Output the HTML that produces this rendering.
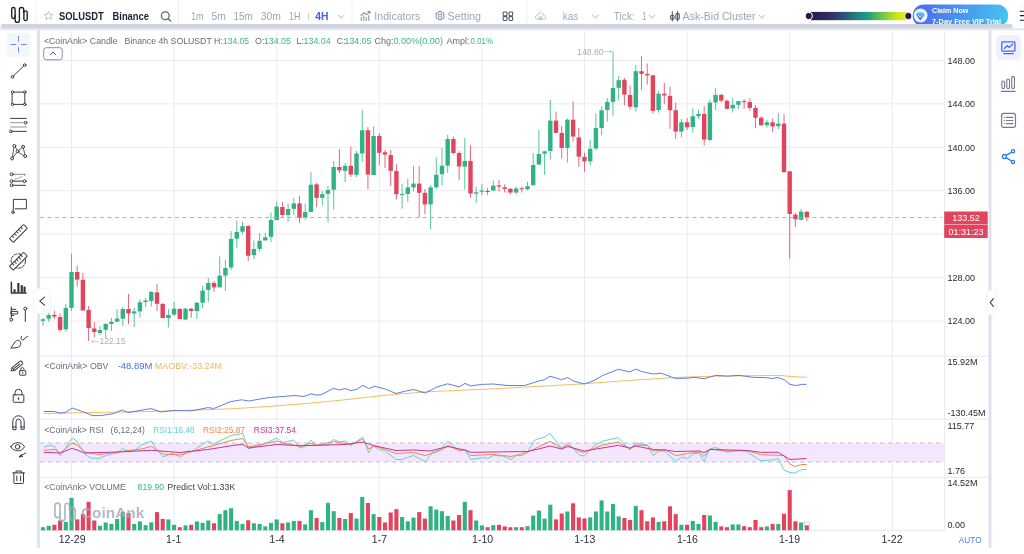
<!DOCTYPE html>
<html><head><meta charset="utf-8"><title>SOLUSDT Chart</title>
<style>
html,body{margin:0;padding:0;background:#fff;}
body{width:1024px;height:554px;overflow:hidden;position:relative;}
svg{position:absolute;left:0;top:0;display:block;}
</style></head><body>
<svg width="1024" height="554" viewBox="0 0 1024 554" font-family="'Liberation Sans', Arial, sans-serif">
<g fill="none" stroke="#1b1f2c" stroke-width="1.35" stroke-linecap="round" stroke-linejoin="round"><rect x="11.7" y="7.5" width="3.4" height="11" rx="1.7"/><path d="M15.1 15.5 V20.2 A2.15 2.15 0 0 0 19.4 20.2 V9.6 A2.15 2.15 0 0 1 23.7 9.6 V12.5"/><rect x="23.9" y="10.9" width="3.3" height="9.7" rx="1.65"/></g>
<rect x="35.5" y="0" width="1" height="24" fill="#f0f1f5"/>
<rect x="178.0" y="0" width="1" height="24" fill="#f0f1f5"/>
<rect x="351.5" y="0" width="1" height="24" fill="#f0f1f5"/>
<rect x="526.5" y="0" width="1" height="24" fill="#f0f1f5"/>
<path d="M48.55 11.3 L49.85 14.2 L52.9 14.5 L50.6 16.5 L51.3 19.5 L48.55 17.9 L45.8 19.5 L46.5 16.5 L44.2 14.5 L47.25 14.2 Z" fill="none" stroke="#b9bdca" stroke-width="0.9" stroke-linejoin="round"/>
<text x="58.90" y="19.50" font-size="10" fill="#1d2230" font-weight="bold" textLength="44.90" lengthAdjust="spacingAndGlyphs">SOLUSDT</text>
<text x="112.50" y="19.50" font-size="10" fill="#1d2230" font-weight="bold" textLength="36.50" lengthAdjust="spacingAndGlyphs">Binance</text>
<g fill="none" stroke="#5c6478" stroke-width="1.3" stroke-linecap="round"><circle cx="165.3" cy="15.8" r="3.9"/><path d="M168.2 18.7 L170.6 21"/></g>
<text x="190.90" y="19.80" font-size="10.5" fill="#9ea4b6" textLength="12.80" lengthAdjust="spacingAndGlyphs">1m</text>
<text x="211.60" y="19.80" font-size="10.5" fill="#9ea4b6" textLength="14.40" lengthAdjust="spacingAndGlyphs">5m</text>
<text x="233.60" y="19.80" font-size="10.5" fill="#9ea4b6" textLength="19.30" lengthAdjust="spacingAndGlyphs">15m</text>
<text x="260.80" y="19.80" font-size="10.5" fill="#9ea4b6" textLength="20.20" lengthAdjust="spacingAndGlyphs">30m</text>
<text x="289.00" y="19.80" font-size="10.5" fill="#9ea4b6" textLength="11.40" lengthAdjust="spacingAndGlyphs">1H</text>
<rect x="308" y="13" width="0.9" height="7" fill="#c5c9d4"/>
<text x="315.30" y="19.80" font-size="10.5" fill="#3d5ee9" font-weight="bold" textLength="13.20" lengthAdjust="spacingAndGlyphs">4H</text>
<path d="M338.50 15.20 L341.25 18.20 L344.00 15.20" fill="none" stroke="#a4a9b9" stroke-width="0.9" stroke-linecap="round" stroke-linejoin="round"/>
<g fill="none" stroke="#8d93a6" stroke-width="1.1" stroke-linecap="round"><path d="M361.3 20.4 V17.2 M363.8 20.4 V15.8 M366.3 20.4 V17.5 M368.8 20.4 V15.5"/><path d="M361 15.6 L364.2 12.8 L366.6 14.6 L369.8 11.7"/><path d="M367.8 11.6 H369.9 V13.6"/></g>
<text x="374.30" y="19.80" font-size="10.5" fill="#9ea4b6" textLength="46.00" lengthAdjust="spacingAndGlyphs">Indicators</text>
<g fill="none" stroke="#8d93a6" stroke-width="1.05"><path d="M440 11.2 L441.3 11.6 L441.9 12.9 L443.3 12.9 L444.2 14.2 L443.6 15.6 L444.2 17 L443.3 18.3 L441.9 18.3 L441.3 19.6 L440 20 L438.7 19.6 L438.1 18.3 L436.7 18.3 L435.8 17 L436.4 15.6 L435.8 14.2 L436.7 12.9 L438.1 12.9 L438.7 11.6 Z" stroke-linejoin="round"/><circle cx="440" cy="15.6" r="1.7"/></g>
<text x="447.50" y="19.80" font-size="10.5" fill="#9ea4b6" textLength="33.50" lengthAdjust="spacingAndGlyphs">Setting</text>
<g fill="none" stroke="#50566a" stroke-width="1.05"><rect x="503.1" y="11.9" width="3.8" height="3.8" rx="0.9"/><rect x="508.9" y="11.9" width="3.8" height="3.8" rx="0.9"/><rect x="503.1" y="16.6" width="3.8" height="3.8" rx="0.9"/><rect x="508.9" y="16.6" width="3.8" height="3.8" rx="0.9"/></g>
<g fill="none" stroke="#b6bbc8" stroke-width="1"><path d="M537.5 19.3 C534.8 19.3 534.8 15.3 537.6 15.2 C537.9 11.8 543.3 11.8 543.6 15.2 C546.4 15.3 546.4 19.3 543.6 19.3 Z"/><path d="M538.6 18.2 C539.3 16 541.9 16 542.6 18.2"/><circle cx="540.6" cy="18.4" r="0.6" fill="#b6bbc8"/></g>
<text x="562.80" y="19.80" font-size="10.5" fill="#9ea4b6" textLength="15.30" lengthAdjust="spacingAndGlyphs">kas</text>
<path d="M592.70 15.20 L595.45 18.20 L598.20 15.20" fill="none" stroke="#a4a9b9" stroke-width="0.9" stroke-linecap="round" stroke-linejoin="round"/>
<text x="613.80" y="19.80" font-size="10.5" fill="#9ea4b6" textLength="21.00" lengthAdjust="spacingAndGlyphs">Tick:</text>
<text x="641.90" y="19.80" font-size="10.5" fill="#9ea4b6" textLength="4.40" lengthAdjust="spacingAndGlyphs">1</text>
<path d="M649.00 15.20 L651.75 18.20 L654.50 15.20" fill="none" stroke="#a4a9b9" stroke-width="0.9" stroke-linecap="round" stroke-linejoin="round"/>
<g fill="none" stroke="#4e5466" stroke-width="1.05" stroke-linecap="round"><path d="M672.3 11.5 V21 M677.6 11.5 V21"/><rect x="670.6" y="15.2" width="3.4" height="4" rx="1"/><rect x="675.9" y="13.6" width="3.4" height="5.6" rx="1"/></g>
<text x="682.60" y="19.80" font-size="10.5" fill="#9ea4b6" textLength="72.90" lengthAdjust="spacingAndGlyphs">Ask-Bid Cluster</text>
<path d="M759.00 15.20 L761.75 18.20 L764.50 15.20" fill="none" stroke="#a4a9b9" stroke-width="0.9" stroke-linecap="round" stroke-linejoin="round"/>
<defs><linearGradient id="vir" x1="0" x2="1" y1="0" y2="0"><stop offset="0" stop-color="#2b1b4c"/><stop offset="0.22" stop-color="#30306a"/><stop offset="0.45" stop-color="#24787f"/><stop offset="0.6" stop-color="#22a27c"/><stop offset="0.75" stop-color="#78c84a"/><stop offset="0.88" stop-color="#cbe21e"/><stop offset="1" stop-color="#f0f40a"/></linearGradient><linearGradient id="btn" x1="0" x2="1" y1="0" y2="0"><stop offset="0" stop-color="#4b68ef"/><stop offset="1" stop-color="#45c3f1"/></linearGradient></defs>
<rect x="811" y="11.9" width="97" height="8.3" fill="url(#vir)"/>
<circle cx="808.8" cy="16" r="3.7" fill="#2b1a48" stroke="#fff" stroke-width="1"/>
<circle cx="908.3" cy="16" r="3.7" fill="#2b1a48" stroke="#fff" stroke-width="1"/>
<rect x="912.7" y="4.5" width="95.5" height="22.4" rx="11.2" fill="url(#btn)"/>
<linearGradient id="dia" x1="0" x2="0" y1="0" y2="1"><stop offset="0" stop-color="#62d3f6"/><stop offset="0.45" stop-color="#4a86f2"/><stop offset="1" stop-color="#3b5cf0"/></linearGradient>
<circle cx="920.6" cy="15.5" r="6.9" fill="#eef1fd"/>
<path d="M915.9 14.5 L917.8 12.3 H922.8 L924.7 14.5 L920.3 20.6 Z" fill="url(#dia)"/><path d="M918.5 15.4 L920.3 17 L922.1 15.4" fill="none" stroke="#ffffff" stroke-width="0.9" stroke-linecap="round" stroke-linejoin="round"/>
<text x="932.00" y="13.30" font-size="7.3" fill="#ffffff" font-weight="bold" textLength="36.30" lengthAdjust="spacingAndGlyphs">Claim Now</text>
<text x="932.00" y="23.90" font-size="7.3" fill="#ffffff" font-weight="bold" textLength="69.00" lengthAdjust="spacingAndGlyphs">7-Day Free VIP Trial</text>
<circle cx="1026.5" cy="15.2" r="10.6" fill="#fff" stroke="#eef0f4" stroke-width="0.8"/>
<g stroke="#1f2330" stroke-width="1.1"><path d="M1019.8 11.3 H1025 M1019.8 15.6 H1025 M1019.8 20.2 H1025"/></g>
<rect x="0" y="28.3" width="1024" height="1.9" fill="#e2e5ee"/>
<rect x="0.8" y="23.9" width="1011.7" height="4.6" rx="2.3" fill="#d1d5e2"/>
<rect x="37.1" y="30" width="2.8" height="518" rx="1.4" fill="#dee1eb"/>
<rect x="988.6" y="30" width="2.9" height="518" rx="1.45" fill="#dee1eb"/>
<rect x="40" y="59.90" width="904" height="1" fill="#e9ebf1"/>
<rect x="40" y="103.34" width="904" height="1" fill="#e9ebf1"/>
<rect x="40" y="146.78" width="904" height="1" fill="#e9ebf1"/>
<rect x="40" y="190.22" width="904" height="1" fill="#e9ebf1"/>
<rect x="40" y="233.66" width="904" height="1" fill="#e9ebf1"/>
<rect x="40" y="277.10" width="904" height="1" fill="#e9ebf1"/>
<rect x="40" y="320.54" width="904" height="1" fill="#e9ebf1"/>
<rect x="71.00" y="30.5" width="1" height="500" fill="#e9ebf1"/>
<rect x="173.60" y="30.5" width="1" height="500" fill="#e9ebf1"/>
<rect x="276.20" y="30.5" width="1" height="500" fill="#e9ebf1"/>
<rect x="378.80" y="30.5" width="1" height="500" fill="#e9ebf1"/>
<rect x="481.40" y="30.5" width="1" height="500" fill="#e9ebf1"/>
<rect x="584.00" y="30.5" width="1" height="500" fill="#e9ebf1"/>
<rect x="686.60" y="30.5" width="1" height="500" fill="#e9ebf1"/>
<rect x="789.20" y="30.5" width="1" height="500" fill="#e9ebf1"/>
<rect x="891.80" y="30.5" width="1" height="500" fill="#e9ebf1"/>
<rect x="40" y="355.70" width="948.5" height="1" fill="#e6e8ef"/>
<rect x="40" y="418.60" width="948.5" height="1" fill="#e6e8ef"/>
<rect x="40" y="476.80" width="948.5" height="1" fill="#e6e8ef"/>
<rect x="40" y="529.8" width="904.5" height="1" fill="#e6e8ef"/>
<rect x="944.2" y="30.5" width="1" height="500" fill="#e6e8ef"/>
<rect x="42.50" y="318.00" width="1" height="7.80" fill="#2fb383" fill-opacity="0.8"/>
<rect x="40.80" y="319.30" width="4.4" height="1.50" fill="#2fb383"/>
<rect x="48.20" y="312.90" width="1" height="8.80" fill="#2fb383" fill-opacity="0.8"/>
<rect x="46.50" y="315.00" width="4.4" height="3.70" fill="#2fb383"/>
<rect x="53.90" y="310.80" width="1" height="7.90" fill="#e2445e" fill-opacity="0.8"/>
<rect x="52.20" y="315.00" width="4.4" height="1.60" fill="#e2445e"/>
<rect x="59.60" y="313.50" width="1" height="18.10" fill="#e2445e" fill-opacity="0.8"/>
<rect x="57.90" y="317.00" width="4.4" height="12.90" fill="#e2445e"/>
<rect x="65.30" y="304.00" width="1" height="27.60" fill="#2fb383" fill-opacity="0.8"/>
<rect x="63.60" y="307.90" width="4.4" height="21.40" fill="#2fb383"/>
<rect x="71.00" y="253.60" width="1" height="57.40" fill="#2fb383" fill-opacity="0.8"/>
<rect x="69.30" y="272.00" width="4.4" height="35.80" fill="#2fb383"/>
<rect x="76.70" y="265.50" width="1" height="21.00" fill="#e2445e" fill-opacity="0.8"/>
<rect x="75.00" y="272.00" width="4.4" height="7.60" fill="#e2445e"/>
<rect x="82.40" y="272.70" width="1" height="37.80" fill="#e2445e" fill-opacity="0.8"/>
<rect x="80.70" y="279.80" width="4.4" height="30.70" fill="#e2445e"/>
<rect x="88.10" y="306.00" width="1" height="35.00" fill="#e2445e" fill-opacity="0.8"/>
<rect x="86.40" y="310.00" width="4.4" height="18.00" fill="#e2445e"/>
<rect x="93.80" y="322.00" width="1" height="15.00" fill="#e2445e" fill-opacity="0.8"/>
<rect x="92.10" y="328.50" width="4.4" height="3.50" fill="#e2445e"/>
<rect x="99.50" y="326.00" width="1" height="9.00" fill="#2fb383" fill-opacity="0.8"/>
<rect x="97.80" y="330.00" width="4.4" height="3.00" fill="#2fb383"/>
<rect x="105.20" y="323.00" width="1" height="15.00" fill="#2fb383" fill-opacity="0.8"/>
<rect x="103.50" y="324.00" width="4.4" height="5.80" fill="#2fb383"/>
<rect x="110.90" y="318.00" width="1" height="13.00" fill="#2fb383" fill-opacity="0.8"/>
<rect x="109.20" y="321.80" width="4.4" height="2.20" fill="#2fb383"/>
<rect x="116.60" y="309.00" width="1" height="13.00" fill="#2fb383" fill-opacity="0.8"/>
<rect x="114.90" y="318.60" width="4.4" height="3.20" fill="#2fb383"/>
<rect x="122.30" y="307.00" width="1" height="19.00" fill="#2fb383" fill-opacity="0.8"/>
<rect x="120.60" y="309.00" width="4.4" height="9.60" fill="#2fb383"/>
<rect x="128.00" y="294.00" width="1" height="30.00" fill="#e2445e" fill-opacity="0.8"/>
<rect x="126.30" y="309.00" width="4.4" height="4.50" fill="#e2445e"/>
<rect x="133.70" y="308.00" width="1" height="19.00" fill="#2fb383" fill-opacity="0.8"/>
<rect x="132.00" y="311.40" width="4.4" height="2.10" fill="#2fb383"/>
<rect x="139.40" y="299.00" width="1" height="18.50" fill="#2fb383" fill-opacity="0.8"/>
<rect x="137.70" y="302.30" width="4.4" height="9.10" fill="#2fb383"/>
<rect x="145.10" y="298.00" width="1" height="9.00" fill="#2fb383" fill-opacity="0.8"/>
<rect x="143.40" y="300.50" width="4.4" height="1.50" fill="#2fb383"/>
<rect x="150.80" y="291.00" width="1" height="15.50" fill="#2fb383" fill-opacity="0.8"/>
<rect x="149.10" y="292.00" width="4.4" height="9.00" fill="#2fb383"/>
<rect x="156.50" y="284.00" width="1" height="27.00" fill="#e2445e" fill-opacity="0.8"/>
<rect x="154.80" y="292.40" width="4.4" height="11.40" fill="#e2445e"/>
<rect x="162.20" y="303.00" width="1" height="15.00" fill="#e2445e" fill-opacity="0.8"/>
<rect x="160.50" y="304.00" width="4.4" height="14.00" fill="#e2445e"/>
<rect x="167.90" y="309.00" width="1" height="18.60" fill="#2fb383" fill-opacity="0.8"/>
<rect x="166.20" y="315.00" width="4.4" height="3.00" fill="#2fb383"/>
<rect x="173.60" y="302.00" width="1" height="14.00" fill="#2fb383" fill-opacity="0.8"/>
<rect x="171.90" y="308.70" width="4.4" height="5.90" fill="#2fb383"/>
<rect x="179.30" y="308.00" width="1" height="11.00" fill="#e2445e" fill-opacity="0.8"/>
<rect x="177.60" y="309.00" width="4.4" height="10.00" fill="#e2445e"/>
<rect x="185.00" y="308.00" width="1" height="12.00" fill="#2fb383" fill-opacity="0.8"/>
<rect x="183.30" y="308.70" width="4.4" height="10.80" fill="#2fb383"/>
<rect x="190.70" y="308.00" width="1" height="10.00" fill="#e2445e" fill-opacity="0.8"/>
<rect x="189.00" y="308.70" width="4.4" height="2.30" fill="#e2445e"/>
<rect x="196.40" y="302.00" width="1" height="17.00" fill="#2fb383" fill-opacity="0.8"/>
<rect x="194.70" y="302.70" width="4.4" height="8.30" fill="#2fb383"/>
<rect x="202.10" y="286.00" width="1" height="22.00" fill="#2fb383" fill-opacity="0.8"/>
<rect x="200.40" y="290.60" width="4.4" height="12.10" fill="#2fb383"/>
<rect x="207.80" y="278.00" width="1" height="24.00" fill="#2fb383" fill-opacity="0.8"/>
<rect x="206.10" y="283.00" width="4.4" height="7.00" fill="#2fb383"/>
<rect x="213.50" y="281.00" width="1" height="10.70" fill="#e2445e" fill-opacity="0.8"/>
<rect x="211.80" y="283.00" width="4.4" height="4.40" fill="#e2445e"/>
<rect x="219.20" y="256.50" width="1" height="30.50" fill="#2fb383" fill-opacity="0.8"/>
<rect x="217.50" y="275.60" width="4.4" height="11.80" fill="#2fb383"/>
<rect x="224.90" y="260.00" width="1" height="31.00" fill="#2fb383" fill-opacity="0.8"/>
<rect x="223.20" y="268.00" width="4.4" height="7.60" fill="#2fb383"/>
<rect x="230.60" y="231.00" width="1" height="39.00" fill="#2fb383" fill-opacity="0.8"/>
<rect x="228.90" y="239.00" width="4.4" height="28.50" fill="#2fb383"/>
<rect x="236.30" y="220.50" width="1" height="27.20" fill="#2fb383" fill-opacity="0.8"/>
<rect x="234.60" y="232.00" width="4.4" height="6.60" fill="#2fb383"/>
<rect x="242.00" y="222.00" width="1" height="12.00" fill="#2fb383" fill-opacity="0.8"/>
<rect x="240.30" y="226.30" width="4.4" height="5.40" fill="#2fb383"/>
<rect x="247.70" y="225.00" width="1" height="36.00" fill="#e2445e" fill-opacity="0.8"/>
<rect x="246.00" y="226.00" width="4.4" height="29.70" fill="#e2445e"/>
<rect x="253.40" y="240.60" width="1" height="18.40" fill="#2fb383" fill-opacity="0.8"/>
<rect x="251.70" y="249.00" width="4.4" height="6.20" fill="#2fb383"/>
<rect x="259.10" y="233.00" width="1" height="18.50" fill="#2fb383" fill-opacity="0.8"/>
<rect x="257.40" y="240.80" width="4.4" height="8.10" fill="#2fb383"/>
<rect x="264.80" y="233.00" width="1" height="7.40" fill="#2fb383" fill-opacity="0.8"/>
<rect x="263.10" y="237.30" width="4.4" height="3.10" fill="#2fb383"/>
<rect x="270.50" y="212.50" width="1" height="29.50" fill="#2fb383" fill-opacity="0.8"/>
<rect x="268.80" y="220.00" width="4.4" height="16.80" fill="#2fb383"/>
<rect x="276.20" y="201.50" width="1" height="18.50" fill="#2fb383" fill-opacity="0.8"/>
<rect x="274.50" y="206.50" width="4.4" height="13.50" fill="#2fb383"/>
<rect x="281.90" y="202.00" width="1" height="16.00" fill="#e2445e" fill-opacity="0.8"/>
<rect x="280.20" y="207.00" width="4.4" height="8.00" fill="#e2445e"/>
<rect x="287.60" y="203.60" width="1" height="18.40" fill="#2fb383" fill-opacity="0.8"/>
<rect x="285.90" y="209.00" width="4.4" height="6.00" fill="#2fb383"/>
<rect x="293.30" y="198.00" width="1" height="17.00" fill="#2fb383" fill-opacity="0.8"/>
<rect x="291.60" y="203.40" width="4.4" height="5.40" fill="#2fb383"/>
<rect x="299.00" y="196.00" width="1" height="27.00" fill="#e2445e" fill-opacity="0.8"/>
<rect x="297.30" y="203.40" width="4.4" height="14.40" fill="#e2445e"/>
<rect x="304.70" y="203.60" width="1" height="15.90" fill="#2fb383" fill-opacity="0.8"/>
<rect x="303.00" y="212.00" width="4.4" height="5.80" fill="#2fb383"/>
<rect x="310.40" y="172.00" width="1" height="40.00" fill="#2fb383" fill-opacity="0.8"/>
<rect x="308.70" y="184.80" width="4.4" height="27.20" fill="#2fb383"/>
<rect x="316.10" y="183.00" width="1" height="23.90" fill="#e2445e" fill-opacity="0.8"/>
<rect x="314.40" y="184.40" width="4.4" height="13.40" fill="#e2445e"/>
<rect x="321.80" y="191.00" width="1" height="14.60" fill="#2fb383" fill-opacity="0.8"/>
<rect x="320.10" y="194.20" width="4.4" height="3.60" fill="#2fb383"/>
<rect x="327.50" y="186.00" width="1" height="36.20" fill="#2fb383" fill-opacity="0.8"/>
<rect x="325.80" y="190.00" width="4.4" height="3.90" fill="#2fb383"/>
<rect x="333.20" y="161.00" width="1" height="48.60" fill="#2fb383" fill-opacity="0.8"/>
<rect x="331.50" y="167.00" width="4.4" height="22.70" fill="#2fb383"/>
<rect x="338.90" y="149.00" width="1" height="24.00" fill="#e2445e" fill-opacity="0.8"/>
<rect x="337.20" y="167.00" width="4.4" height="3.30" fill="#e2445e"/>
<rect x="344.60" y="163.00" width="1" height="19.00" fill="#2fb383" fill-opacity="0.8"/>
<rect x="342.90" y="165.80" width="4.4" height="5.10" fill="#2fb383"/>
<rect x="350.30" y="146.60" width="1" height="30.40" fill="#e2445e" fill-opacity="0.8"/>
<rect x="348.60" y="165.80" width="4.4" height="8.70" fill="#e2445e"/>
<rect x="356.00" y="151.00" width="1" height="26.00" fill="#2fb383" fill-opacity="0.8"/>
<rect x="354.30" y="153.40" width="4.4" height="21.50" fill="#2fb383"/>
<rect x="361.70" y="110.00" width="1" height="52.00" fill="#2fb383" fill-opacity="0.8"/>
<rect x="360.00" y="130.30" width="4.4" height="23.10" fill="#2fb383"/>
<rect x="367.40" y="127.00" width="1" height="62.40" fill="#e2445e" fill-opacity="0.8"/>
<rect x="365.70" y="130.30" width="4.4" height="44.20" fill="#e2445e"/>
<rect x="373.10" y="126.00" width="1" height="49.00" fill="#2fb383" fill-opacity="0.8"/>
<rect x="371.40" y="136.00" width="4.4" height="39.00" fill="#2fb383"/>
<rect x="378.80" y="133.00" width="1" height="32.30" fill="#e2445e" fill-opacity="0.8"/>
<rect x="377.10" y="136.00" width="4.4" height="16.80" fill="#e2445e"/>
<rect x="384.50" y="150.00" width="1" height="18.00" fill="#e2445e" fill-opacity="0.8"/>
<rect x="382.80" y="152.30" width="4.4" height="2.30" fill="#e2445e"/>
<rect x="390.20" y="150.00" width="1" height="36.00" fill="#e2445e" fill-opacity="0.8"/>
<rect x="388.50" y="155.00" width="4.4" height="15.80" fill="#e2445e"/>
<rect x="395.90" y="164.40" width="1" height="35.20" fill="#e2445e" fill-opacity="0.8"/>
<rect x="394.20" y="171.00" width="4.4" height="23.20" fill="#e2445e"/>
<rect x="401.60" y="184.00" width="1" height="24.70" fill="#2fb383" fill-opacity="0.8"/>
<rect x="399.90" y="193.90" width="4.4" height="1.00" fill="#2fb383"/>
<rect x="407.30" y="179.00" width="1" height="23.00" fill="#2fb383" fill-opacity="0.8"/>
<rect x="405.60" y="187.40" width="4.4" height="6.60" fill="#2fb383"/>
<rect x="413.00" y="166.00" width="1" height="25.40" fill="#2fb383" fill-opacity="0.8"/>
<rect x="411.30" y="183.60" width="4.4" height="3.80" fill="#2fb383"/>
<rect x="418.70" y="166.00" width="1" height="51.50" fill="#e2445e" fill-opacity="0.8"/>
<rect x="417.00" y="183.60" width="4.4" height="9.20" fill="#e2445e"/>
<rect x="424.40" y="189.00" width="1" height="25.00" fill="#e2445e" fill-opacity="0.8"/>
<rect x="422.70" y="192.80" width="4.4" height="11.60" fill="#e2445e"/>
<rect x="430.10" y="185.00" width="1" height="44.00" fill="#2fb383" fill-opacity="0.8"/>
<rect x="428.40" y="187.40" width="4.4" height="17.00" fill="#2fb383"/>
<rect x="435.80" y="157.40" width="1" height="31.30" fill="#2fb383" fill-opacity="0.8"/>
<rect x="434.10" y="174.80" width="4.4" height="12.60" fill="#2fb383"/>
<rect x="441.50" y="147.50" width="1" height="38.10" fill="#2fb383" fill-opacity="0.8"/>
<rect x="439.80" y="165.70" width="4.4" height="8.50" fill="#2fb383"/>
<rect x="447.20" y="134.90" width="1" height="37.90" fill="#2fb383" fill-opacity="0.8"/>
<rect x="445.50" y="139.00" width="4.4" height="26.70" fill="#2fb383"/>
<rect x="452.90" y="136.30" width="1" height="18.10" fill="#e2445e" fill-opacity="0.8"/>
<rect x="451.20" y="139.00" width="4.4" height="14.00" fill="#e2445e"/>
<rect x="458.60" y="151.30" width="1" height="28.90" fill="#e2445e" fill-opacity="0.8"/>
<rect x="456.90" y="153.00" width="4.4" height="13.50" fill="#e2445e"/>
<rect x="464.30" y="138.00" width="1" height="51.60" fill="#2fb383" fill-opacity="0.8"/>
<rect x="462.60" y="161.00" width="4.4" height="5.60" fill="#2fb383"/>
<rect x="470.00" y="145.30" width="1" height="52.40" fill="#e2445e" fill-opacity="0.8"/>
<rect x="468.30" y="161.00" width="4.4" height="32.50" fill="#e2445e"/>
<rect x="475.70" y="186.90" width="1" height="16.10" fill="#2fb383" fill-opacity="0.8"/>
<rect x="474.00" y="192.30" width="4.4" height="1.40" fill="#2fb383"/>
<rect x="481.40" y="184.00" width="1" height="11.00" fill="#2fb383" fill-opacity="0.8"/>
<rect x="479.70" y="190.50" width="4.4" height="1.20" fill="#2fb383"/>
<rect x="487.10" y="188.00" width="1" height="7.00" fill="#e2445e" fill-opacity="0.8"/>
<rect x="485.40" y="191.00" width="4.4" height="1.00" fill="#e2445e"/>
<rect x="492.80" y="180.50" width="1" height="10.90" fill="#2fb383" fill-opacity="0.8"/>
<rect x="491.10" y="185.60" width="4.4" height="4.90" fill="#2fb383"/>
<rect x="498.50" y="179.80" width="1" height="11.70" fill="#e2445e" fill-opacity="0.8"/>
<rect x="496.80" y="185.40" width="4.4" height="1.20" fill="#e2445e"/>
<rect x="504.20" y="184.40" width="1" height="8.10" fill="#e2445e" fill-opacity="0.8"/>
<rect x="502.50" y="187.40" width="4.4" height="1.50" fill="#e2445e"/>
<rect x="509.90" y="188.00" width="1" height="6.30" fill="#e2445e" fill-opacity="0.8"/>
<rect x="508.20" y="188.90" width="4.4" height="3.60" fill="#e2445e"/>
<rect x="515.60" y="186.70" width="1" height="7.60" fill="#2fb383" fill-opacity="0.8"/>
<rect x="513.90" y="188.50" width="4.4" height="4.00" fill="#2fb383"/>
<rect x="521.30" y="186.50" width="1" height="6.00" fill="#e2445e" fill-opacity="0.8"/>
<rect x="519.60" y="188.30" width="4.4" height="1.00" fill="#e2445e"/>
<rect x="527.00" y="181.60" width="1" height="8.70" fill="#2fb383" fill-opacity="0.8"/>
<rect x="525.30" y="186.20" width="4.4" height="3.00" fill="#2fb383"/>
<rect x="532.70" y="153.10" width="1" height="32.20" fill="#2fb383" fill-opacity="0.8"/>
<rect x="531.00" y="165.00" width="4.4" height="20.30" fill="#2fb383"/>
<rect x="538.40" y="129.70" width="1" height="35.20" fill="#2fb383" fill-opacity="0.8"/>
<rect x="536.70" y="154.00" width="4.4" height="10.50" fill="#2fb383"/>
<rect x="544.10" y="150.60" width="1" height="24.20" fill="#2fb383" fill-opacity="0.8"/>
<rect x="542.40" y="151.30" width="4.4" height="2.40" fill="#2fb383"/>
<rect x="549.80" y="99.90" width="1" height="59.70" fill="#2fb383" fill-opacity="0.8"/>
<rect x="548.10" y="120.60" width="4.4" height="30.40" fill="#2fb383"/>
<rect x="555.50" y="111.60" width="1" height="21.30" fill="#e2445e" fill-opacity="0.8"/>
<rect x="553.80" y="120.60" width="4.4" height="12.30" fill="#e2445e"/>
<rect x="561.20" y="126.00" width="1" height="32.50" fill="#e2445e" fill-opacity="0.8"/>
<rect x="559.50" y="132.90" width="4.4" height="15.00" fill="#e2445e"/>
<rect x="566.90" y="118.50" width="1" height="44.20" fill="#2fb383" fill-opacity="0.8"/>
<rect x="565.20" y="119.70" width="4.4" height="28.20" fill="#2fb383"/>
<rect x="572.60" y="101.30" width="1" height="40.30" fill="#e2445e" fill-opacity="0.8"/>
<rect x="570.90" y="119.70" width="4.4" height="16.80" fill="#e2445e"/>
<rect x="578.30" y="127.90" width="1" height="38.80" fill="#e2445e" fill-opacity="0.8"/>
<rect x="576.60" y="137.40" width="4.4" height="19.30" fill="#e2445e"/>
<rect x="584.00" y="152.80" width="1" height="18.90" fill="#e2445e" fill-opacity="0.8"/>
<rect x="582.30" y="156.90" width="4.4" height="4.50" fill="#e2445e"/>
<rect x="589.70" y="140.00" width="1" height="25.40" fill="#2fb383" fill-opacity="0.8"/>
<rect x="588.00" y="148.80" width="4.4" height="12.60" fill="#2fb383"/>
<rect x="595.40" y="113.60" width="1" height="36.40" fill="#2fb383" fill-opacity="0.8"/>
<rect x="593.70" y="128.00" width="4.4" height="20.50" fill="#2fb383"/>
<rect x="601.10" y="106.40" width="1" height="28.90" fill="#2fb383" fill-opacity="0.8"/>
<rect x="599.40" y="110.30" width="4.4" height="17.70" fill="#2fb383"/>
<rect x="606.80" y="98.20" width="1" height="23.50" fill="#2fb383" fill-opacity="0.8"/>
<rect x="605.10" y="101.90" width="4.4" height="8.10" fill="#2fb383"/>
<rect x="612.50" y="51.90" width="1" height="63.90" fill="#2fb383" fill-opacity="0.8"/>
<rect x="610.80" y="88.00" width="4.4" height="13.90" fill="#2fb383"/>
<rect x="618.20" y="76.00" width="1" height="24.60" fill="#2fb383" fill-opacity="0.8"/>
<rect x="616.50" y="80.20" width="4.4" height="7.60" fill="#2fb383"/>
<rect x="623.90" y="78.00" width="1" height="27.50" fill="#e2445e" fill-opacity="0.8"/>
<rect x="622.20" y="79.80" width="4.4" height="14.80" fill="#e2445e"/>
<rect x="629.60" y="85.60" width="1" height="24.00" fill="#e2445e" fill-opacity="0.8"/>
<rect x="627.90" y="95.00" width="4.4" height="11.70" fill="#e2445e"/>
<rect x="635.30" y="65.20" width="1" height="46.20" fill="#2fb383" fill-opacity="0.8"/>
<rect x="633.60" y="71.20" width="4.4" height="36.10" fill="#2fb383"/>
<rect x="641.00" y="56.20" width="1" height="33.90" fill="#e2445e" fill-opacity="0.8"/>
<rect x="639.30" y="71.20" width="4.4" height="2.70" fill="#e2445e"/>
<rect x="646.70" y="63.40" width="1" height="21.30" fill="#e2445e" fill-opacity="0.8"/>
<rect x="645.00" y="73.90" width="4.4" height="1.40" fill="#e2445e"/>
<rect x="652.40" y="75.30" width="1" height="38.30" fill="#e2445e" fill-opacity="0.8"/>
<rect x="650.70" y="75.30" width="4.4" height="35.60" fill="#e2445e"/>
<rect x="658.10" y="91.00" width="1" height="21.70" fill="#2fb383" fill-opacity="0.8"/>
<rect x="656.40" y="93.70" width="4.4" height="16.30" fill="#2fb383"/>
<rect x="663.80" y="82.90" width="1" height="21.30" fill="#e2445e" fill-opacity="0.8"/>
<rect x="662.10" y="93.70" width="4.4" height="1.80" fill="#e2445e"/>
<rect x="669.50" y="86.90" width="1" height="42.00" fill="#e2445e" fill-opacity="0.8"/>
<rect x="667.80" y="95.90" width="4.4" height="14.40" fill="#e2445e"/>
<rect x="675.20" y="102.40" width="1" height="36.50" fill="#e2445e" fill-opacity="0.8"/>
<rect x="673.50" y="110.30" width="4.4" height="21.30" fill="#e2445e"/>
<rect x="680.90" y="119.00" width="1" height="18.40" fill="#2fb383" fill-opacity="0.8"/>
<rect x="679.20" y="122.30" width="4.4" height="9.30" fill="#2fb383"/>
<rect x="686.60" y="118.00" width="1" height="12.00" fill="#e2445e" fill-opacity="0.8"/>
<rect x="684.90" y="122.30" width="4.4" height="5.00" fill="#e2445e"/>
<rect x="692.30" y="108.40" width="1" height="24.40" fill="#2fb383" fill-opacity="0.8"/>
<rect x="690.60" y="116.20" width="4.4" height="10.80" fill="#2fb383"/>
<rect x="698.00" y="109.70" width="1" height="9.20" fill="#2fb383" fill-opacity="0.8"/>
<rect x="696.30" y="114.00" width="4.4" height="2.20" fill="#2fb383"/>
<rect x="703.70" y="106.00" width="1" height="39.40" fill="#e2445e" fill-opacity="0.8"/>
<rect x="702.00" y="114.00" width="4.4" height="25.60" fill="#e2445e"/>
<rect x="709.40" y="99.40" width="1" height="42.00" fill="#2fb383" fill-opacity="0.8"/>
<rect x="707.70" y="102.60" width="4.4" height="37.40" fill="#2fb383"/>
<rect x="715.10" y="88.00" width="1" height="22.20" fill="#2fb383" fill-opacity="0.8"/>
<rect x="713.40" y="94.90" width="4.4" height="7.50" fill="#2fb383"/>
<rect x="720.80" y="93.60" width="1" height="8.80" fill="#e2445e" fill-opacity="0.8"/>
<rect x="719.10" y="94.90" width="4.4" height="5.70" fill="#e2445e"/>
<rect x="726.50" y="99.40" width="1" height="9.90" fill="#e2445e" fill-opacity="0.8"/>
<rect x="724.80" y="100.80" width="4.4" height="8.00" fill="#e2445e"/>
<rect x="732.20" y="98.10" width="1" height="14.40" fill="#2fb383" fill-opacity="0.8"/>
<rect x="730.50" y="104.80" width="4.4" height="3.60" fill="#2fb383"/>
<rect x="737.90" y="101.20" width="1" height="8.10" fill="#2fb383" fill-opacity="0.8"/>
<rect x="736.20" y="101.20" width="4.4" height="3.60" fill="#2fb383"/>
<rect x="743.60" y="99.00" width="1" height="9.90" fill="#e2445e" fill-opacity="0.8"/>
<rect x="741.90" y="101.20" width="4.4" height="1.00" fill="#e2445e"/>
<rect x="749.30" y="98.50" width="1" height="12.20" fill="#e2445e" fill-opacity="0.8"/>
<rect x="747.60" y="102.00" width="4.4" height="5.90" fill="#e2445e"/>
<rect x="755.00" y="105.10" width="1" height="22.60" fill="#e2445e" fill-opacity="0.8"/>
<rect x="753.30" y="107.90" width="4.4" height="9.90" fill="#e2445e"/>
<rect x="760.70" y="116.20" width="1" height="9.70" fill="#e2445e" fill-opacity="0.8"/>
<rect x="759.00" y="117.80" width="4.4" height="7.40" fill="#e2445e"/>
<rect x="766.40" y="119.80" width="1" height="7.90" fill="#2fb383" fill-opacity="0.8"/>
<rect x="764.70" y="122.30" width="4.4" height="2.90" fill="#2fb383"/>
<rect x="772.10" y="118.30" width="1" height="14.10" fill="#e2445e" fill-opacity="0.8"/>
<rect x="770.40" y="122.30" width="4.4" height="4.10" fill="#e2445e"/>
<rect x="777.80" y="112.90" width="1" height="16.10" fill="#2fb383" fill-opacity="0.8"/>
<rect x="776.10" y="123.60" width="4.4" height="2.60" fill="#2fb383"/>
<rect x="783.50" y="114.30" width="1" height="58.70" fill="#e2445e" fill-opacity="0.8"/>
<rect x="781.80" y="123.60" width="4.4" height="48.50" fill="#e2445e"/>
<rect x="789.20" y="171.30" width="1" height="87.50" fill="#e2445e" fill-opacity="0.8"/>
<rect x="787.50" y="171.30" width="4.4" height="42.70" fill="#e2445e"/>
<rect x="794.90" y="212.60" width="1" height="14.40" fill="#e2445e" fill-opacity="0.8"/>
<rect x="793.20" y="214.60" width="4.4" height="4.60" fill="#e2445e"/>
<rect x="800.60" y="208.80" width="1" height="11.60" fill="#2fb383" fill-opacity="0.8"/>
<rect x="798.90" y="211.70" width="4.4" height="8.10" fill="#2fb383"/>
<rect x="806.30" y="211.20" width="1" height="10.10" fill="#e2445e" fill-opacity="0.8"/>
<rect x="804.60" y="211.70" width="4.4" height="5.80" fill="#e2445e"/>
<line x1="40" y1="217.5" x2="942" y2="217.5" stroke="#f09aa8" stroke-width="1" stroke-dasharray="4 3.5"/>
<text x="577.10" y="54.70" font-size="9" fill="#a9aebc" textLength="26.60" lengthAdjust="spacingAndGlyphs">148.80</text>
<text x="601.40" y="54.10" font-size="13" fill="#a9aebc">→</text>
<text x="88.50" y="344.00" font-size="13" fill="#a9aebc">←</text>
<text x="99.40" y="344.10" font-size="9" fill="#a9aebc" textLength="26.30" lengthAdjust="spacingAndGlyphs">122.15</text>
<polyline points="43.8,413.5 75.0,412.8 153.0,411.5 231.0,408.8 270.0,406.4 309.0,403.3 348.5,399.4 387.6,395.0 426.6,391.8 500.0,388.5 584.0,383.8 625.0,380.7 674.7,377.5 720.0,376.0 780.0,375.4 790.0,376.4 806.5,377.3" fill="none" stroke="#f2b552" stroke-width="0.9" stroke-linejoin="round"/>
<polyline points="43.8,411.5 54.6,411.5 59.4,413.0 65.3,412.5 72.1,408.0 81.0,411.0 92.6,415.6 100.5,415.6 114.0,413.5 122.0,410.0 127.8,412.5 151.2,408.6 161.0,412.0 172.7,410.5 192.0,410.8 208.0,407.6 213.7,408.5 231.0,401.5 241.7,399.8 248.6,401.0 269.0,397.5 276.9,397.0 294.5,395.5 304.0,396.5 311.0,393.8 317.0,395.2 321.8,394.4 333.5,388.3 339.4,390.0 345.2,388.5 351.0,390.6 357.0,389.3 362.8,385.2 368.7,388.5 374.5,386.3 384.3,388.7 396.0,393.5 405.8,391.0 413.6,389.5 425.3,393.0 436.7,387.1 447.5,383.8 452.3,385.0 459.2,386.9 465.0,383.4 470.9,385.9 481.6,384.4 493.4,384.0 507.0,385.5 524.6,385.5 540.2,380.5 544.1,380.0 550.0,376.2 561.7,379.7 567.6,377.5 573.4,381.0 584.2,384.0 593.0,381.0 602.7,375.5 618.4,369.3 629.8,371.9 635.6,369.1 641.5,371.5 653.2,374.0 661.0,373.2 665.0,374.5 674.7,378.3 686.4,378.3 694.2,377.3 704.0,378.7 715.7,375.4 727.4,376.2 739.1,375.4 752.8,377.3 766.5,377.7 772.3,378.5 778.2,377.5 784.0,379.7 790.0,384.4 795.8,385.5 801.6,384.4 806.5,384.4" fill="none" stroke="#4c6fe0" stroke-width="0.9" stroke-linejoin="round"/>
<rect x="40" y="442.8" width="904" height="19.4" fill="#f4e7fd"/>
<line x1="40" y1="443" x2="944" y2="443" stroke="#bfc2cc" stroke-width="1" stroke-dasharray="4 4"/>
<line x1="40" y1="462" x2="944" y2="462" stroke="#bfc2cc" stroke-width="1" stroke-dasharray="4 4"/>
<polyline points="43.8,447.2 49.7,445.5 54.6,446.5 60.4,456.0 72.1,438.0 77.0,441.0 84.8,454.0 90.7,458.0 98.5,458.5 106.3,455.5 118.0,452.5 122.0,448.5 127.8,451.0 133.7,451.0 141.5,445.0 151.2,441.0 155.0,447.0 163.0,457.0 172.7,453.0 180.5,457.5 186.4,451.0 192.0,451.5 202.0,444.5 207.9,441.0 213.7,444.0 221.5,440.0 231.3,435.5 242.7,433.5 248.6,448.9 265.2,443.5 276.9,438.0 282.7,442.5 293.5,440.0 300.3,448.0 306.2,445.8 311.0,440.0 316.0,445.5 327.7,445.0 333.5,439.5 339.4,442.0 345.2,441.0 351.0,445.5 362.8,437.0 368.7,452.7 373.5,445.5 378.4,449.5 384.3,450.5 396.0,459.5 401.9,459.5 413.6,455.5 425.3,461.5 432.8,452.0 440.6,449.3 448.0,441.3 459.2,451.0 465.0,450.0 470.9,459.5 483.6,457.5 487.5,458.5 493.4,455.5 503.0,456.0 511.0,459.5 516.8,455.5 522.7,455.5 527.5,452.0 534.4,440.5 538.3,438.5 544.1,437.5 550.0,433.3 561.7,448.5 567.6,442.5 579.3,455.0 584.2,456.0 595.0,445.0 602.7,441.0 618.4,437.7 629.8,450.0 635.6,443.0 647.3,445.0 653.2,455.5 659.0,451.0 665.0,451.5 675.7,461.5 681.5,457.0 687.4,458.5 693.2,454.0 699.1,453.0 704.0,461.5 709.8,449.0 715.7,447.5 727.4,452.3 739.1,450.0 747.0,452.0 760.6,460.5 772.3,460.0 778.2,458.5 784.0,470.0 790.0,472.5 794.8,473.0 801.6,469.5 806.5,469.5" fill="none" stroke="#5fd4d6" stroke-width="1" stroke-linejoin="round"/>
<polyline points="43.8,450.2 54.6,449.5 60.4,453.0 72.1,443.0 77.0,445.0 84.8,452.0 98.5,454.7 118.0,452.0 141.5,449.0 151.2,446.5 163.0,454.0 180.5,455.0 192.0,451.5 207.9,447.0 231.0,440.5 242.7,438.5 248.6,447.0 276.9,441.0 282.7,443.0 300.3,446.5 311.0,443.0 316.0,445.5 333.5,441.5 351.0,444.5 362.8,439.0 368.7,449.0 373.5,446.0 384.3,449.0 396.0,453.5 413.6,452.5 425.3,455.5 440.6,450.5 448.0,445.5 459.2,450.5 465.0,449.7 470.9,455.5 493.4,454.5 511.0,456.5 527.5,452.3 538.3,447.0 550.0,441.3 561.7,448.5 567.6,445.0 579.3,451.5 584.2,452.3 602.7,445.0 618.4,442.0 629.8,449.0 635.6,445.0 647.3,445.5 653.2,451.0 665.0,449.5 675.7,455.7 687.4,453.5 699.1,452.0 704.0,456.5 709.8,449.0 727.4,451.0 747.0,450.5 760.6,454.7 784.0,455.5 790.0,464.0 794.8,466.5 801.6,464.5 806.5,464.5" fill="none" stroke="#f5874a" stroke-width="1" stroke-linejoin="round"/>
<polyline points="43.8,452.3 60.4,453.0 72.1,448.3 84.8,453.0 118.0,452.0 151.2,450.3 180.0,452.5 207.9,449.5 236.0,445.0 242.7,444.5 248.6,448.0 276.9,444.5 300.3,445.7 316.0,445.3 345.2,444.5 362.8,442.0 373.5,445.5 396.0,450.5 413.6,450.0 430.0,451.0 448.0,446.5 465.0,450.0 470.9,452.3 527.5,451.5 538.3,449.0 550.0,446.0 561.7,449.0 567.6,446.5 584.2,451.0 618.4,445.3 629.8,448.0 635.6,446.0 653.2,449.5 665.0,450.0 675.7,451.5 699.1,451.0 704.0,452.5 709.8,449.5 747.0,450.5 760.6,452.3 778.2,452.3 790.0,459.5 806.5,458.5" fill="none" stroke="#c3379c" stroke-width="1" stroke-linejoin="round"/>
<rect x="40.95" y="527.20" width="4.1" height="3.10" fill="#2fb383"/>
<rect x="46.65" y="525.80" width="4.1" height="4.50" fill="#2fb383"/>
<rect x="52.35" y="524.80" width="4.1" height="5.50" fill="#e2445e"/>
<rect x="58.05" y="520.50" width="4.1" height="9.80" fill="#e2445e"/>
<rect x="63.75" y="521.90" width="4.1" height="8.40" fill="#2fb383"/>
<rect x="69.45" y="497.90" width="4.1" height="32.40" fill="#2fb383"/>
<rect x="75.15" y="519.40" width="4.1" height="10.90" fill="#e2445e"/>
<rect x="80.85" y="514.10" width="4.1" height="16.20" fill="#e2445e"/>
<rect x="86.55" y="501.80" width="4.1" height="28.50" fill="#e2445e"/>
<rect x="92.25" y="520.50" width="4.1" height="9.80" fill="#e2445e"/>
<rect x="97.95" y="525.80" width="4.1" height="4.50" fill="#2fb383"/>
<rect x="103.65" y="522.50" width="4.1" height="7.80" fill="#2fb383"/>
<rect x="109.35" y="523.90" width="4.1" height="6.40" fill="#2fb383"/>
<rect x="115.05" y="519.00" width="4.1" height="11.30" fill="#2fb383"/>
<rect x="120.75" y="511.70" width="4.1" height="18.60" fill="#2fb383"/>
<rect x="126.45" y="513.10" width="4.1" height="17.20" fill="#e2445e"/>
<rect x="132.15" y="523.90" width="4.1" height="6.40" fill="#2fb383"/>
<rect x="137.85" y="521.30" width="4.1" height="9.00" fill="#2fb383"/>
<rect x="143.55" y="525.20" width="4.1" height="5.10" fill="#2fb383"/>
<rect x="149.25" y="522.30" width="4.1" height="8.00" fill="#2fb383"/>
<rect x="154.95" y="512.10" width="4.1" height="18.20" fill="#e2445e"/>
<rect x="160.65" y="519.00" width="4.1" height="11.30" fill="#e2445e"/>
<rect x="166.35" y="519.40" width="4.1" height="10.90" fill="#2fb383"/>
<rect x="172.05" y="524.80" width="4.1" height="5.50" fill="#2fb383"/>
<rect x="177.75" y="527.20" width="4.1" height="3.10" fill="#e2445e"/>
<rect x="183.45" y="525.40" width="4.1" height="4.90" fill="#2fb383"/>
<rect x="189.15" y="524.80" width="4.1" height="5.50" fill="#e2445e"/>
<rect x="194.85" y="521.50" width="4.1" height="8.80" fill="#2fb383"/>
<rect x="200.55" y="522.90" width="4.1" height="7.40" fill="#2fb383"/>
<rect x="206.25" y="520.50" width="4.1" height="9.80" fill="#2fb383"/>
<rect x="211.95" y="523.30" width="4.1" height="7.00" fill="#e2445e"/>
<rect x="217.65" y="514.10" width="4.1" height="16.20" fill="#2fb383"/>
<rect x="223.35" y="510.20" width="4.1" height="20.10" fill="#2fb383"/>
<rect x="229.05" y="508.20" width="4.1" height="22.10" fill="#2fb383"/>
<rect x="234.75" y="520.90" width="4.1" height="9.40" fill="#2fb383"/>
<rect x="240.45" y="523.90" width="4.1" height="6.40" fill="#2fb383"/>
<rect x="246.15" y="520.30" width="4.1" height="10.00" fill="#e2445e"/>
<rect x="251.85" y="523.30" width="4.1" height="7.00" fill="#2fb383"/>
<rect x="257.55" y="523.90" width="4.1" height="6.40" fill="#2fb383"/>
<rect x="263.25" y="526.40" width="4.1" height="3.90" fill="#2fb383"/>
<rect x="268.95" y="522.90" width="4.1" height="7.40" fill="#2fb383"/>
<rect x="274.65" y="519.40" width="4.1" height="10.90" fill="#2fb383"/>
<rect x="280.35" y="523.30" width="4.1" height="7.00" fill="#e2445e"/>
<rect x="286.05" y="522.50" width="4.1" height="7.80" fill="#2fb383"/>
<rect x="291.75" y="520.90" width="4.1" height="9.40" fill="#2fb383"/>
<rect x="297.45" y="520.90" width="4.1" height="9.40" fill="#e2445e"/>
<rect x="303.15" y="524.40" width="4.1" height="5.90" fill="#2fb383"/>
<rect x="308.85" y="510.20" width="4.1" height="20.10" fill="#2fb383"/>
<rect x="314.55" y="518.00" width="4.1" height="12.30" fill="#e2445e"/>
<rect x="320.25" y="522.10" width="4.1" height="8.20" fill="#2fb383"/>
<rect x="325.95" y="502.80" width="4.1" height="27.50" fill="#2fb383"/>
<rect x="331.65" y="511.20" width="4.1" height="19.10" fill="#2fb383"/>
<rect x="337.35" y="518.00" width="4.1" height="12.30" fill="#e2445e"/>
<rect x="343.05" y="519.00" width="4.1" height="11.30" fill="#2fb383"/>
<rect x="348.75" y="513.10" width="4.1" height="17.20" fill="#e2445e"/>
<rect x="354.45" y="518.60" width="4.1" height="11.70" fill="#2fb383"/>
<rect x="360.15" y="496.90" width="4.1" height="33.40" fill="#2fb383"/>
<rect x="365.85" y="503.00" width="4.1" height="27.30" fill="#e2445e"/>
<rect x="371.55" y="514.10" width="4.1" height="16.20" fill="#2fb383"/>
<rect x="377.25" y="517.00" width="4.1" height="13.30" fill="#e2445e"/>
<rect x="382.95" y="522.50" width="4.1" height="7.80" fill="#e2445e"/>
<rect x="388.65" y="512.50" width="4.1" height="17.80" fill="#e2445e"/>
<rect x="394.35" y="509.20" width="4.1" height="21.10" fill="#e2445e"/>
<rect x="400.05" y="517.00" width="4.1" height="13.30" fill="#2fb383"/>
<rect x="405.75" y="521.30" width="4.1" height="9.00" fill="#2fb383"/>
<rect x="411.45" y="517.60" width="4.1" height="12.70" fill="#2fb383"/>
<rect x="417.15" y="512.10" width="4.1" height="18.20" fill="#e2445e"/>
<rect x="422.85" y="518.60" width="4.1" height="11.70" fill="#e2445e"/>
<rect x="428.55" y="506.30" width="4.1" height="24.00" fill="#2fb383"/>
<rect x="434.25" y="509.60" width="4.1" height="20.70" fill="#2fb383"/>
<rect x="439.95" y="511.20" width="4.1" height="19.10" fill="#2fb383"/>
<rect x="445.65" y="516.00" width="4.1" height="14.30" fill="#2fb383"/>
<rect x="451.35" y="520.50" width="4.1" height="9.80" fill="#e2445e"/>
<rect x="457.05" y="515.00" width="4.1" height="15.30" fill="#e2445e"/>
<rect x="462.75" y="501.80" width="4.1" height="28.50" fill="#2fb383"/>
<rect x="468.45" y="510.20" width="4.1" height="20.10" fill="#e2445e"/>
<rect x="474.15" y="520.50" width="4.1" height="9.80" fill="#2fb383"/>
<rect x="479.85" y="525.40" width="4.1" height="4.90" fill="#2fb383"/>
<rect x="485.55" y="527.20" width="4.1" height="3.10" fill="#e2445e"/>
<rect x="491.25" y="525.20" width="4.1" height="5.10" fill="#2fb383"/>
<rect x="496.95" y="524.80" width="4.1" height="5.50" fill="#e2445e"/>
<rect x="502.65" y="526.40" width="4.1" height="3.90" fill="#e2445e"/>
<rect x="508.35" y="527.20" width="4.1" height="3.10" fill="#e2445e"/>
<rect x="514.05" y="527.20" width="4.1" height="3.10" fill="#2fb383"/>
<rect x="519.75" y="527.20" width="4.1" height="3.10" fill="#e2445e"/>
<rect x="525.45" y="526.20" width="4.1" height="4.10" fill="#2fb383"/>
<rect x="531.15" y="515.60" width="4.1" height="14.70" fill="#2fb383"/>
<rect x="536.85" y="510.60" width="4.1" height="19.70" fill="#2fb383"/>
<rect x="542.55" y="518.60" width="4.1" height="11.70" fill="#2fb383"/>
<rect x="548.25" y="504.70" width="4.1" height="25.60" fill="#2fb383"/>
<rect x="553.95" y="519.40" width="4.1" height="10.90" fill="#e2445e"/>
<rect x="559.65" y="513.50" width="4.1" height="16.80" fill="#e2445e"/>
<rect x="565.35" y="511.50" width="4.1" height="18.80" fill="#2fb383"/>
<rect x="571.05" y="503.30" width="4.1" height="27.00" fill="#e2445e"/>
<rect x="576.75" y="517.40" width="4.1" height="12.90" fill="#e2445e"/>
<rect x="582.45" y="518.40" width="4.1" height="11.90" fill="#e2445e"/>
<rect x="588.15" y="517.40" width="4.1" height="12.90" fill="#2fb383"/>
<rect x="593.85" y="511.50" width="4.1" height="18.80" fill="#2fb383"/>
<rect x="599.55" y="500.40" width="4.1" height="29.90" fill="#2fb383"/>
<rect x="605.25" y="511.50" width="4.1" height="18.80" fill="#2fb383"/>
<rect x="610.95" y="503.90" width="4.1" height="26.40" fill="#2fb383"/>
<rect x="616.65" y="516.40" width="4.1" height="13.90" fill="#2fb383"/>
<rect x="622.35" y="518.00" width="4.1" height="12.30" fill="#e2445e"/>
<rect x="628.05" y="520.00" width="4.1" height="10.30" fill="#e2445e"/>
<rect x="633.75" y="505.90" width="4.1" height="24.40" fill="#2fb383"/>
<rect x="639.45" y="510.20" width="4.1" height="20.10" fill="#e2445e"/>
<rect x="645.15" y="521.30" width="4.1" height="9.00" fill="#e2445e"/>
<rect x="650.85" y="517.40" width="4.1" height="12.90" fill="#e2445e"/>
<rect x="656.55" y="521.90" width="4.1" height="8.40" fill="#2fb383"/>
<rect x="662.25" y="521.30" width="4.1" height="9.00" fill="#e2445e"/>
<rect x="667.95" y="506.30" width="4.1" height="24.00" fill="#e2445e"/>
<rect x="673.65" y="514.10" width="4.1" height="16.20" fill="#e2445e"/>
<rect x="679.35" y="524.80" width="4.1" height="5.50" fill="#2fb383"/>
<rect x="685.05" y="524.80" width="4.1" height="5.50" fill="#e2445e"/>
<rect x="690.75" y="520.90" width="4.1" height="9.40" fill="#2fb383"/>
<rect x="696.45" y="523.90" width="4.1" height="6.40" fill="#2fb383"/>
<rect x="702.15" y="515.00" width="4.1" height="15.30" fill="#e2445e"/>
<rect x="707.85" y="515.50" width="4.1" height="14.80" fill="#2fb383"/>
<rect x="713.55" y="521.90" width="4.1" height="8.40" fill="#2fb383"/>
<rect x="719.25" y="526.40" width="4.1" height="3.90" fill="#e2445e"/>
<rect x="724.95" y="527.20" width="4.1" height="3.10" fill="#e2445e"/>
<rect x="730.65" y="524.40" width="4.1" height="5.90" fill="#2fb383"/>
<rect x="736.35" y="524.40" width="4.1" height="5.90" fill="#2fb383"/>
<rect x="742.05" y="526.20" width="4.1" height="4.10" fill="#e2445e"/>
<rect x="747.75" y="527.20" width="4.1" height="3.10" fill="#e2445e"/>
<rect x="753.45" y="520.00" width="4.1" height="10.30" fill="#e2445e"/>
<rect x="759.15" y="527.20" width="4.1" height="3.10" fill="#e2445e"/>
<rect x="764.85" y="526.40" width="4.1" height="3.90" fill="#2fb383"/>
<rect x="770.55" y="523.90" width="4.1" height="6.40" fill="#e2445e"/>
<rect x="776.25" y="523.90" width="4.1" height="6.40" fill="#2fb383"/>
<rect x="781.95" y="513.70" width="4.1" height="16.60" fill="#e2445e"/>
<rect x="787.65" y="490.10" width="4.1" height="40.20" fill="#e2445e"/>
<rect x="793.35" y="521.30" width="4.1" height="9.00" fill="#e2445e"/>
<rect x="799.05" y="522.50" width="4.1" height="7.80" fill="#2fb383"/>
<rect x="804.75" y="525.40" width="4.1" height="4.90" fill="#e2445e"/>
<g opacity="0.8"><g fill="none" stroke="#a2a8b9" stroke-width="1.8" stroke-linecap="round" stroke-linejoin="round"><rect x="54.9" y="503.2" width="5.1" height="14.4" rx="2.55"/><path d="M60 512 V518.3 A2.5 2.5 0 0 0 65 518.3 V505.6 A2.25 2.25 0 0 1 69.5 505.6 V510"/><rect x="70.1" y="507.7" width="5" height="12.3" rx="2.5"/></g><text x="81" y="518.2" font-size="15.3" font-weight="bold" fill="#a2a8b9" textLength="63.3" lengthAdjust="spacingAndGlyphs">CoinAnk</text></g>
<rect x="804.3" y="522.2" width="5.2" height="3.8" fill="none" stroke="#6b7080" stroke-width="0.6" stroke-dasharray="1 1.2"/>
<text x="43.90" y="44.00" font-size="9" fill="#646b7a" textLength="73.80" lengthAdjust="spacingAndGlyphs">&lt;CoinAnk&gt; Candle</text>
<text x="124.60" y="44.00" font-size="9" fill="#646b7a" textLength="98.10" lengthAdjust="spacingAndGlyphs">Binance 4h SOLUSDT H:</text>
<text x="223.00" y="44.00" font-size="9" fill="#3bb77e" textLength="26.10" lengthAdjust="spacingAndGlyphs">134.05</text>
<text x="254.90" y="44.00" font-size="9" fill="#646b7a">O:</text>
<text x="263.80" y="44.00" font-size="9" fill="#3bb77e" textLength="27.20" lengthAdjust="spacingAndGlyphs">134.05</text>
<text x="296.40" y="44.00" font-size="9" fill="#646b7a">L:</text>
<text x="303.60" y="44.00" font-size="9" fill="#3bb77e" textLength="27.00" lengthAdjust="spacingAndGlyphs">134.04</text>
<text x="336.70" y="44.00" font-size="9" fill="#646b7a">C:</text>
<text x="344.60" y="44.00" font-size="9" fill="#3bb77e" textLength="26.70" lengthAdjust="spacingAndGlyphs">134.05</text>
<text x="374.50" y="44.00" font-size="9" fill="#646b7a">Chg:</text>
<text x="393.50" y="44.00" font-size="9" fill="#3bb77e" textLength="49.40" lengthAdjust="spacingAndGlyphs">0.00%(0.00)</text>
<text x="446.50" y="44.00" font-size="9" fill="#646b7a">Ampl:</text>
<text x="470.60" y="44.00" font-size="9" fill="#3bb77e" textLength="22.30" lengthAdjust="spacingAndGlyphs">0.01%</text>
<rect x="43.7" y="47.7" width="18.6" height="12.1" rx="2.5" fill="#fff" stroke="#7d8394" stroke-width="0.9"/>
<path d="M50.50 54.70 L53.00 52.10 L55.50 54.70" fill="none" stroke="#4f5566" stroke-width="1" stroke-linecap="round" stroke-linejoin="round"/>
<text x="44.30" y="369.10" font-size="9" fill="#646b7a" textLength="64.10" lengthAdjust="spacingAndGlyphs">&lt;CoinAnk&gt; OBV</text>
<text x="117.70" y="369.10" font-size="9" fill="#4a6ae6" textLength="34.60" lengthAdjust="spacingAndGlyphs">-48.89M</text>
<text x="154.80" y="369.10" font-size="9" fill="#f2b552" textLength="67.20" lengthAdjust="spacingAndGlyphs">MAOBV:-33.24M</text>
<text x="44.20" y="432.80" font-size="9" fill="#646b7a" textLength="59.50" lengthAdjust="spacingAndGlyphs">&lt;CoinAnk&gt; RSI</text>
<text x="110.60" y="432.80" font-size="9" fill="#646b7a" textLength="34.20" lengthAdjust="spacingAndGlyphs">(6,12,24)</text>
<text x="153.20" y="432.80" font-size="9" fill="#5fd4d6" textLength="41.40" lengthAdjust="spacingAndGlyphs">RSI1:16.48</text>
<text x="203.00" y="432.80" font-size="9" fill="#f5874a" textLength="42.00" lengthAdjust="spacingAndGlyphs">RSI2:25.87</text>
<text x="253.80" y="432.80" font-size="9" fill="#c3379c" textLength="42.20" lengthAdjust="spacingAndGlyphs">RSI3:37.54</text>
<text x="44.20" y="490.40" font-size="9" fill="#646b7a" textLength="81.60" lengthAdjust="spacingAndGlyphs">&lt;CoinAnk&gt; VOLUME</text>
<text x="137.60" y="490.40" font-size="9" fill="#3bb77e" textLength="26.40" lengthAdjust="spacingAndGlyphs">819.90</text>
<text x="167.30" y="490.40" font-size="9" fill="#3a3f4b" textLength="68.00" lengthAdjust="spacingAndGlyphs">Predict Vol:1.33K</text>
<text x="947.50" y="63.70" font-size="9" fill="#1f2329">148.00</text>
<text x="947.50" y="107.14" font-size="9" fill="#1f2329">144.00</text>
<text x="947.50" y="150.58" font-size="9" fill="#1f2329">140.00</text>
<text x="947.50" y="194.02" font-size="9" fill="#1f2329">136.00</text>
<text x="947.50" y="280.90" font-size="9" fill="#1f2329">128.00</text>
<text x="947.50" y="324.34" font-size="9" fill="#1f2329">124.00</text>
<text x="947.50" y="365.20" font-size="9" fill="#1f2329">15.92M</text>
<text x="947.50" y="416.10" font-size="9" fill="#1f2329">-130.45M</text>
<text x="947.50" y="429.10" font-size="9" fill="#1f2329">115.77</text>
<text x="947.50" y="473.80" font-size="9" fill="#1f2329">1.76</text>
<text x="947.50" y="486.40" font-size="9" fill="#1f2329">14.52M</text>
<text x="947.50" y="527.60" font-size="9" fill="#1f2329">0.00</text>
<text x="958.70" y="542.50" font-size="9" fill="#4a7cf5" textLength="22.90" lengthAdjust="spacingAndGlyphs">AUTO</text>
<rect x="944.2" y="211.5" width="43.5" height="26.5" fill="#e2445e"/>
<rect x="944.2" y="224.0" width="43.5" height="0.8" fill="#f5b3be"/>
<text x="966.00" y="221.30" font-size="9" fill="#fff" text-anchor="middle">133.52</text>
<text x="966.00" y="234.60" font-size="9" fill="#fff" text-anchor="middle">01:31:23</text>
<text x="72.10" y="542.60" font-size="10.5" fill="#2a2e38" text-anchor="middle">12-29</text>
<text x="173.70" y="542.60" font-size="10.5" fill="#2a2e38" text-anchor="middle">1-1</text>
<text x="276.90" y="542.60" font-size="10.5" fill="#2a2e38" text-anchor="middle">1-4</text>
<text x="379.40" y="542.60" font-size="10.5" fill="#2a2e38" text-anchor="middle">1-7</text>
<text x="482.60" y="542.60" font-size="10.5" fill="#2a2e38" text-anchor="middle">1-10</text>
<text x="584.80" y="542.60" font-size="10.5" fill="#2a2e38" text-anchor="middle">1-13</text>
<text x="687.40" y="542.60" font-size="10.5" fill="#2a2e38" text-anchor="middle">1-16</text>
<text x="789.50" y="542.60" font-size="10.5" fill="#2a2e38" text-anchor="middle">1-19</text>
<text x="892.00" y="542.60" font-size="10.5" fill="#2a2e38" text-anchor="middle">1-22</text>
<rect x="33.5" y="288.5" width="16.7" height="25" rx="4" fill="#fff" stroke="#eef0f5" stroke-width="0.8"/>
<path d="M 44.6 297.2 L 39.8 301.2 L 44.6 305.2" fill="none" stroke="#333844" stroke-width="1.1" stroke-linecap="round" stroke-linejoin="round"/>
<rect x="986.5" y="290" width="9.5" height="25" rx="4" fill="#fff" stroke="#eef0f5" stroke-width="0.8"/>
<path d="M 993.4 298.6 L 990.2 302.5 L 993.4 306.4" fill="none" stroke="#333844" stroke-width="1.1" stroke-linecap="round" stroke-linejoin="round"/>
<rect x="6.5" y="33" width="24" height="23.8" rx="4" fill="#f4f6fd"/>
<g stroke="#5d7cf6" stroke-width="0.9"><path d="M10.4 44.5 H16.3 M21.2 44.5 H26.7 M18.5 36 V41.6 M18.5 47.2 V52.5"/></g>
<g fill="none" stroke="#2d3240" stroke-width="0.95" stroke-linecap="round" stroke-linejoin="round">
<path d="M13.2 76.1 L23.9 65.9"/><circle cx="12.4" cy="76.9" r="1.3" fill="#fff"/><circle cx="24.7" cy="65.1" r="1.3" fill="#fff"/>
<rect x="12.5" y="92.1" width="12.3" height="12.3"/>
<circle cx="12.5" cy="92.1" r="1.25" fill="#fff"/>
<circle cx="24.8" cy="92.1" r="1.25" fill="#fff"/>
<circle cx="12.5" cy="104.4" r="1.25" fill="#fff"/>
<circle cx="24.8" cy="104.4" r="1.25" fill="#fff"/>
<path d="M10.6 118.4 H26.3"/><path d="M10.6 122.7 H24.3" stroke="#8a8f9c"/><path d="M10.6 127 H26.3" stroke="#8a8f9c"/><path d="M12.2 131.4 H26.3"/>
<circle cx="25.6" cy="122.7" r="1.35" fill="#fff"/><circle cx="10.9" cy="131.4" r="1.35" fill="#fff"/>
<path d="M14.3 145.9 L12.1 158.5 L17.6 151.3 Z M17.6 151.3 L23.1 146.8 L25.2 156.2 Z" stroke-width="0.8"/>
<circle cx="14.3" cy="145.9" r="1.45" fill="#fff"/>
<circle cx="23.1" cy="146.8" r="1.45" fill="#fff"/>
<circle cx="17.6" cy="151.3" r="1.45" fill="#fff"/>
<circle cx="12.1" cy="158.5" r="1.45" fill="#fff"/>
<circle cx="25.2" cy="156.2" r="1.45" fill="#fff"/>
<path d="M13.1 174.3 H25.4 L24.3 175.6" stroke="#7d8290"/><path d="M14.6 179.7 L21.8 176.6" stroke-dasharray="1 1.3" stroke="#8a8f9c"/><path d="M13.1 181.2 H23.1"/><path d="M13.1 185.3 H25.4"/>
<circle cx="11.6" cy="174.3" r="1.45" fill="#fff"/>
<circle cx="11.6" cy="181.2" r="1.45" fill="#fff"/>
<circle cx="24.6" cy="181.2" r="1.45" fill="#fff"/>
<circle cx="11.6" cy="185.3" r="1.45" fill="#fff"/>
<path d="M15.2 208.8 H26.4 V199.4 H13.4 V207.2 L13.2 210.8"/><circle cx="13" cy="212.3" r="1.3" fill="#fff"/>
<g transform="translate(18.4 233.4) rotate(-45)"><rect x="-10" y="-2.7" width="20" height="5.4" rx="0.8"/><path d="M-6 -2.7 V-0.5 M-3 -2.7 V0 M0 -2.7 V-0.5 M3 -2.7 V0 M6 -2.7 V-0.5"/></g>
<circle cx="18.3" cy="261" r="7.2" stroke-dasharray="2.6 1.6"/>
<g transform="translate(18.4 261.2) rotate(-45)"><rect x="-10" y="-2.7" width="20" height="5.4" rx="0.8" fill="#fff"/><path d="M-6 -2.7 V-0.5 M-3 -2.7 V0 M0 -2.7 V-0.5 M3 -2.7 V0 M6 -2.7 V-0.5"/></g>
<path d="M11.4 282.3 V292.9 H26" stroke-width="1.5"/>
</g>
<g fill="#2d3240"><rect x="13.5" y="289.3" width="2.1" height="3.2"/><rect x="17.3" y="283" width="2.1" height="9.5"/><rect x="20.7" y="285.2" width="2.1" height="7.3"/><rect x="23.5" y="286.6" width="2.1" height="5.9"/></g>
<g fill="none" stroke="#2d3240" stroke-width="0.95" stroke-linecap="round" stroke-linejoin="round">
<path d="M11.3 306.8 V318.2"/><path d="M11.3 309.3 H15.8"/><rect x="11.3" y="311.4" width="6.3" height="2.5"/><path d="M11.3 315.4 H13.8"/><circle cx="11.2" cy="319.7" r="1.5" fill="#fff"/>
<path d="M25.3 310.1 V321.6"/><circle cx="25.3" cy="308.6" r="1.5" fill="#fff"/>
<path d="M11.1 347.8 L15.1 341.8 C16.7 339.6 20.3 339.9 20.7 342.7 C21.1 345.3 19.5 347.7 16.4 347.7 Z"/><path d="M21.4 336.4 C20.6 337.6 20.9 339.6 22.6 340.2 L27.7 336.2"/>
<g transform="translate(16.6 366.4) rotate(-40)"><path d="M-7 0 L-4.2 -1.9 H5.2 A1.9 1.9 0 0 1 5.2 1.9 H-4.2 Z"/><path d="M-4.2 -1.9 V1.9 M-3 0 H4"/></g>
<rect x="19.6" y="370.6" width="6.2" height="4.6" rx="0.6"/><path d="M20.8 370.6 V369.2 A1.6 1.6 0 0 1 24 369.2"/><path d="M22.7 372.4 V373.3"/>
<rect x="13.2" y="394.8" width="10.6" height="7.5" rx="0.8"/><path d="M15 394.8 V392.8 A3.5 3.5 0 0 1 22 392.8 V394.8"/>
</g>
<circle cx="18.5" cy="398.3" r="0.9" fill="#2d3240"/><rect x="18.1" y="398.3" width="0.8" height="1.9" fill="#2d3240"/>
<g fill="none" stroke="#2d3240" stroke-width="0.95" stroke-linecap="round" stroke-linejoin="round">
<path d="M12.8 429.3 V421.5 A5.7 5.7 0 0 1 24.2 421.5 V429.3 H21 V421.7 A2.5 2.5 0 0 0 16 421.7 V429.3 Z"/><path d="M12.8 427 H16 M21 427 H24.2"/>
<path d="M10.8 446.8 C13.5 441.2 21.8 441.2 24.5 446.8 C21.8 452.2 13.5 452.2 10.8 446.8 Z"/><circle cx="17.6" cy="446.8" r="2.3"/>
<path d="M19.5 456.8 L25.8 452.9 M19.5 456.8 L21.5 454.3 M19.5 456.8 L22.5 456.6"/>
<path d="M12.7 472.9 H24.5"/><path d="M16 472.9 V471 H21.3 V472.9"/><path d="M13.9 472.9 V482.5 A1 1 0 0 0 14.9 483.5 H22.5 A1 1 0 0 0 23.5 482.5 V472.9"/><path d="M16.8 476 V480.7 M20.6 476 V480.7"/>
</g>
<rect x="996.1" y="35.1" width="24.9" height="25" rx="4.5" fill="#eef0fd"/>
<g fill="none" stroke="#4a67f0" stroke-width="1.3" stroke-linecap="round" stroke-linejoin="round"><rect x="1001.8" y="41.8" width="13.1" height="9.4" rx="0.8"/><path d="M1004.3 48.6 L1007.3 45.8 L1009.3 47.4 L1012.6 44.2"/><path d="M1003.8 53.6 H1013.2"/></g>
<g fill="none" stroke="#737a8c" stroke-width="1.1" stroke-linecap="round"><rect x="1001.9" y="81" width="2.7" height="7.7" rx="1.35"/><rect x="1006.8" y="79" width="2.7" height="9.7" rx="1.35"/><rect x="1011.7" y="76.4" width="2.7" height="12.3" rx="1.35"/><path d="M1001.3 91.4 H1015"/></g>
<g fill="none" stroke="#737a8c" stroke-width="1.15" stroke-linecap="round"><rect x="1001.6" y="113.4" width="13.9" height="14" rx="2.2"/><path d="M1006.4 117.4 H1012.9 M1006.4 120.5 H1012.9 M1006.4 123.6 H1012.9"/></g>
<g fill="#737a8c"><circle cx="1004.3" cy="117.4" r="0.65"/><circle cx="1004.3" cy="120.5" r="0.65"/><circle cx="1004.3" cy="123.6" r="0.65"/></g>
<g fill="none" stroke="#2f7bf5" stroke-width="1.3"><circle cx="1004.4" cy="156.5" r="2"/><circle cx="1013" cy="151.3" r="1.6"/><circle cx="1013" cy="161.9" r="1.6"/><path d="M1006.1 155.4 L1011.6 152.1 M1006.1 157.6 L1011.6 161"/></g>
</svg>
</body></html>
